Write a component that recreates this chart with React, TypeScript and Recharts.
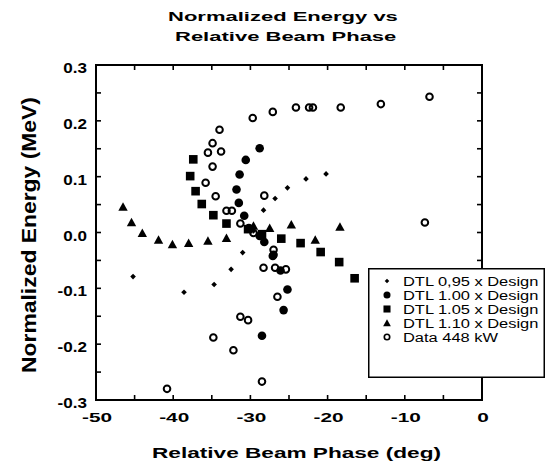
import React from 'react';
import { ScatterChart, Scatter, XAxis, YAxis, Customized } from 'recharts';

const W = 547;
const H = 471;
const MARGIN = { top: 65, right: 65, left: 96, bottom: 71 };
const PLOT_TOP = MARGIN.top;
const PLOT_LEFT = MARGIN.left;
const PLOT_RIGHT = W - MARGIN.right;
const PLOT_BOTTOM = H - MARGIN.bottom;
const FONT = '"Liberation Sans", Arial, Helvetica, sans-serif';

// ---- axis domains and tick labels ----
const xDomain = [-50, 0];
const yDomain = [-0.3, 0.3];
const xTicks = [-50, -45, -40, -35, -30, -25, -20, -15, -10, -5, 0];
const xMajor = [-50, -40, -30, -20, -10, 0];
const xLabels = ['-50', '-40', '-30', '-20', '-10', '0'];
const yTicks = [-0.3, -0.25, -0.2, -0.15, -0.1, -0.05, 0, 0.05, 0.1, 0.15, 0.2, 0.25, 0.3];
const yMajor = [-0.3, -0.2, -0.1, 0, 0.1, 0.2, 0.3];
const yLabels = ['-0.3', '-0.2', '-0.1', '0.0', '0.1', '0.2', '0.3'];

const titleLines = ['Normalized Energy vs', 'Relative Beam Phase'];
const xTitle = 'Relative Beam Phase (deg)';
const yTitle = 'Normalized Energy (MeV)';
const seriesNames = ['DTL 0,95 x Design', 'DTL 1.00 x Design', 'DTL 1.05 x Design', 'DTL 1.10 x Design', 'Data 448 kW'];

// ---- series values ----
const dtl095Phase = [-45.2, -38.6, -34.7, -32.5, -31.0, -29.6, -28.3, -26.8, -25.2, -22.8, -20.2];
const dtl095Energy = [-0.079, -0.107, -0.093, -0.066, -0.036, 0.003, 0.040, 0.061, 0.080, 0.096, 0.105];

const dtl100Phase = [-28.8, -30.6, -31.4, -31.8, -31.5, -30.8, -30.2, -28.8, -28.2, -27.1, -26.1, -25.2, -25.7, -28.5];
const dtl100Energy = [0.151, 0.130, 0.104, 0.077, 0.053, 0.030, 0.008, -0.006, -0.017, -0.042, -0.068, -0.102, -0.139, -0.185];

const dtl105Phase = [-37.4, -37.8, -37.1, -36.3, -34.8, -33.1, -30.3, -28.5, -26.0, -23.5, -20.9, -18.5, -16.5];
const dtl105Energy = [0.131, 0.101, 0.074, 0.051, 0.031, 0.016, 0.006, -0.003, -0.011, -0.019, -0.035, -0.053, -0.082];

const dtl110Phase = [-46.5, -45.4, -44.0, -41.9, -40.1, -38.0, -35.5, -33.1, -29.6, -27.5, -24.7, -21.6, -18.4];
const dtl110Energy = [0.046, 0.018, -0.001, -0.013, -0.021, -0.019, -0.015, -0.010, 0.012, 0.008, 0.014, -0.013, 0.010];

const dataPhase = [-40.8, -34.8, -32.2, -31.3, -30.3, -28.5, -28.3, -26.8, -25.4, -26.5, -27.0, -27.0, -29.6, -31.3, -33.1, -32.4, -34.5, -35.8, -34.9, -35.5, -33.8, -34.9, -34.0, -29.7, -27.1, -28.2, -24.1, -22.4, -21.9, -18.3, -13.1, -6.8, -7.4];
const dataEnergy = [-0.280, -0.188, -0.211, -0.151, -0.157, -0.267, -0.063, -0.063, -0.066, -0.115, -0.031, -0.040, -0.001, 0.016, 0.039, 0.039, 0.065, 0.089, 0.118, 0.143, 0.145, 0.160, 0.184, 0.205, 0.216, 0.066, 0.224, 0.224, 0.224, 0.224, 0.230, 0.243, 0.018];

const toPoints = (xs: number[], ys: number[]) => xs.map((x, i) => ({ x, y: ys[i] }));
const seriesData = [
  toPoints(dtl095Phase, dtl095Energy),
  toPoints(dtl100Phase, dtl100Energy),
  toPoints(dtl105Phase, dtl105Energy),
  toPoints(dtl110Phase, dtl110Energy),
  toPoints(dataPhase, dataEnergy),
];

// ---- marker shapes ----
const renderSymbol = (kind: number, cx: number, cy: number, s: number = 1) => {
  switch (kind) {
    case 0: {
      const r = 2.8 * s;
      return <polygon points={`${cx},${cy - r} ${cx + r},${cy} ${cx},${cy + r} ${cx - r},${cy}`} fill="#000" />;
    }
    case 1:
      return <circle cx={cx} cy={cy} r={4.3 * s} fill="#000" />;
    case 2: {
      const h = 4.3 * s;
      return <rect x={cx - h} y={cy - h} width={2 * h} height={2 * h} fill="#000" />;
    }
    case 3: {
      const w = 4.7 * s;
      const t = 4.6 * s;
      return <polygon points={`${cx},${cy - t} ${cx + w},${cy + t * 0.85} ${cx - w},${cy + t * 0.85}`} fill="#000" />;
    }
    default:
      return <circle cx={cx} cy={cy} r={3.3 * s} fill="none" stroke="#000" strokeWidth={2 * s} />;
  }
};

const makeShape = (kind: number) => (p: any) => <g>{renderSymbol(kind, p.cx, p.cy)}</g>;

// ---- tick labels (placed by the library's axes) ----
const XTick = (props: any) => {
  const { x, payload } = props;
  const i = xMajor.findIndex((v) => Math.abs(v - payload.value) < 1e-9);
  if (i < 0) return <g />;
  return (
    <text
      transform={`translate(${x + 1},${PLOT_BOTTOM + 22}) scale(1.6,1)`}
      textAnchor="middle"
      fontSize={13}
      fontWeight="bold"
      fontFamily={FONT}
      fill="#000"
    >
      {xLabels[i]}
    </text>
  );
};

const YTick = (props: any) => {
  const { y, payload } = props;
  const i = yMajor.findIndex((v) => Math.abs(v - payload.value) < 1e-9);
  if (i < 0) return <g />;
  return (
    <text
      transform={`translate(${PLOT_LEFT - 9},${y + 8}) scale(1.22,1)`}
      textAnchor="end"
      fontSize={14}
      fontWeight="bold"
      fontFamily={FONT}
      fill="#000"
    >
      {yLabels[i]}
    </text>
  );
};

// ---- titles ----
const Decor = () => (
  <g fontFamily={FONT} fontWeight="bold" fill="#000">
    <text transform="translate(168,21) scale(1.63,1)" fontSize={13.5}>{titleLines[0]}</text>
    <text transform="translate(175,40.5) scale(1.63,1)" fontSize={13.5}>{titleLines[1]}</text>
    <text transform="translate(152,457.5) scale(1.46,1)" fontSize={15.5}>{xTitle}</text>
    <text transform="translate(36,235) rotate(-90) scale(1.145,1)" textAnchor="middle" fontSize={20}>{yTitle}</text>
  </g>
);

// ---- inward tick marks, drawn as an overlay layer ----
const sx = (v: number) => PLOT_LEFT + ((v - xDomain[0]) / (xDomain[1] - xDomain[0])) * (PLOT_RIGHT - PLOT_LEFT);
const sy = (v: number) => PLOT_BOTTOM - ((v - yDomain[0]) / (yDomain[1] - yDomain[0])) * (PLOT_BOTTOM - PLOT_TOP);

const TickOverlay = () => (
  <svg
    width={W}
    height={H}
    style={{ position: 'absolute', left: 0, top: 0, pointerEvents: 'none' }}
  >
    {xTicks.map((v) => (
      <g key={`x${v}`} stroke="#000" strokeWidth={1.6}>
        <line x1={sx(v)} x2={sx(v)} y1={PLOT_BOTTOM} y2={PLOT_BOTTOM - 5} />
        <line x1={sx(v)} x2={sx(v)} y1={PLOT_TOP} y2={PLOT_TOP + 5} />
      </g>
    ))}
    {yTicks.map((v) => (
      <g key={`y${v}`} stroke="#000" strokeWidth={1.6}>
        <line x1={PLOT_LEFT} x2={PLOT_LEFT + 5} y1={sy(v)} y2={sy(v)} />
        <line x1={PLOT_RIGHT} x2={PLOT_RIGHT - 5} y1={sy(v)} y2={sy(v)} />
      </g>
    ))}
  </svg>
);

// ---- legend ----
const LegendBox = () => (
  <svg width={177} height={110} style={{ display: 'block' }}>
    <rect x={0.75} y={0.75} width={175.5} height={108.5} fill="#fff" stroke="#000" strokeWidth={1.5} />
    {seriesNames.map((name, i) => {
      const cy = 13 + i * 14;
      return (
        <g key={name}>
          {renderSymbol(i, 19, cy, 0.82)}
          <text
            transform={`translate(35,${cy + 4.5}) scale(1.37,1)`}
            fontSize={12}
            fontFamily={FONT}
            fill="#000"
          >
            {name}
          </text>
        </g>
      );
    })}
  </svg>
);

export default function App() {
  return (
    <div style={{ position: 'absolute', left: 0, top: 0, width: W, height: H, background: '#fff' }}>
      <ScatterChart width={W} height={H} margin={MARGIN}>
        <XAxis
          type="number"
          dataKey="x"
          domain={xDomain}
          ticks={xTicks}
          interval={0}
          axisLine={false}
          tickLine={false}
          tickSize={0}
          tickMargin={0}
          mirror
          tick={<XTick />}
          allowDataOverflow
        />
        <YAxis
          type="number"
          dataKey="y"
          domain={yDomain}
          ticks={yTicks}
          interval={0}
          axisLine={false}
          tickLine={false}
          tickSize={0}
          tickMargin={0}
          mirror
          tick={<YTick />}
          allowDataOverflow
        />
        <Customized component={Decor} />
        {seriesData.map((d, i) => (
          <Scatter
            key={seriesNames[i]}
            name={seriesNames[i]}
            data={d}
            fill="#000"
            shape={makeShape(i)}
            isAnimationActive={false}
          />
        ))}
      </ScatterChart>
      <div
        style={{
          position: 'absolute',
          left: PLOT_LEFT - 1,
          top: PLOT_TOP - 1,
          width: PLOT_RIGHT - PLOT_LEFT + 2,
          height: PLOT_BOTTOM - PLOT_TOP + 2,
          border: '2px solid #000',
          boxSizing: 'border-box',
          pointerEvents: 'none',
        }}
      />
      <TickOverlay />
      <div style={{ position: 'absolute', left: 368, top: 268, width: 177, height: 110 }}>
        <LegendBox />
      </div>
    </div>
  );
}
